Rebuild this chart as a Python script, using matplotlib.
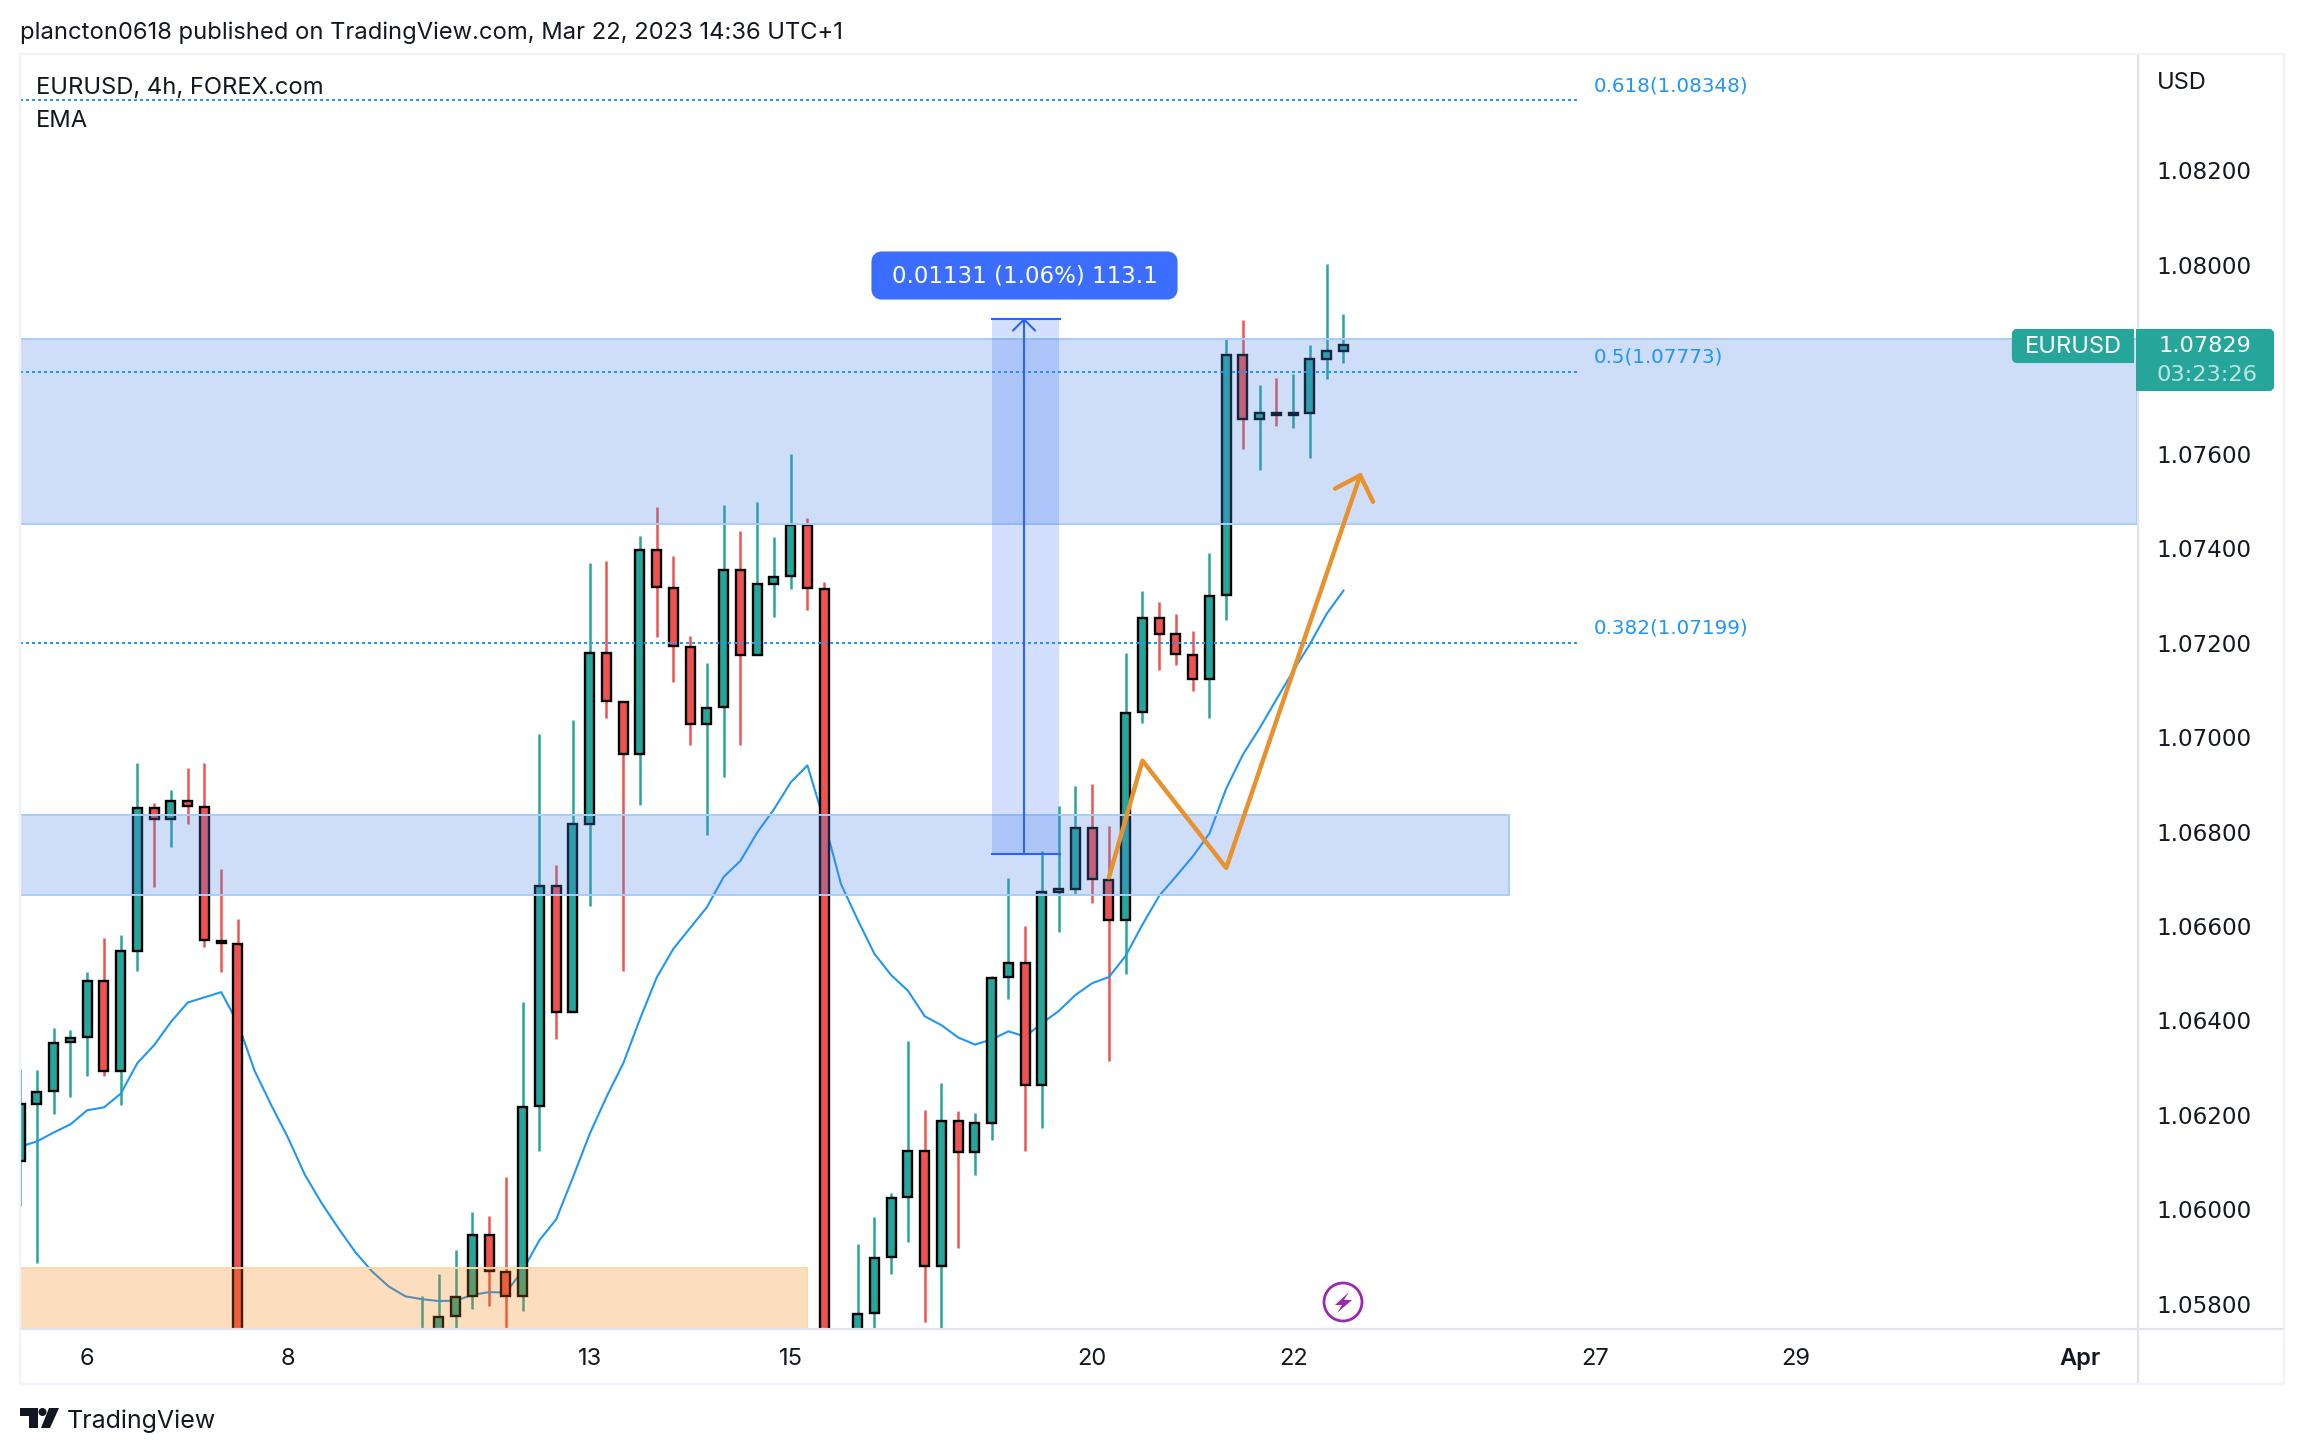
import numpy as np
import matplotlib
matplotlib.use("Agg")
import matplotlib.pyplot as plt
from matplotlib.patches import FancyBboxPatch, Circle, Polygon, Rectangle

nan = float("nan")
W, H = 2304, 1454

# ---------- data (bars below the visible range are nan) ----------
opens = [1.06102,1.06224,1.06250,1.06354,1.06366,1.06483,1.06292,1.06548,1.06849,1.06826,
         1.06864,1.06852,1.06569,1.06562,nan,nan,nan,nan,nan,nan,
         nan,nan,nan,nan,1.05700,1.05700,1.05774,1.05816,1.05946,1.05867,
         1.05816,1.06219,1.06684,1.06418,1.06817,1.07178,1.07075,1.06965,1.07396,1.07316,
         1.07191,1.07027,1.07063,1.07354,1.07173,1.07325,1.07340,1.07449,1.07314,nan,
         1.05700,1.05780,1.05899,1.06026,1.06123,1.05880,1.06187,1.06121,1.06184,1.06492,
         1.06521,1.06263,1.06672,1.06678,1.06807,1.06697,1.06612,1.07052,1.07252,1.07219,
         1.07174,1.07123,1.07300,1.07809,1.07674,1.07686,1.07682,1.07687,1.07801,1.07818]
closes = [1.06224,1.06248,1.06352,1.06363,1.06483,1.06292,1.06547,1.06849,1.06826,1.06864,
          1.06853,1.06570,1.06563,1.05650,nan,nan,nan,nan,nan,nan,
          nan,nan,nan,nan,1.05720,1.05773,1.05814,1.05946,1.05869,1.05816,
          1.06217,1.06684,1.06418,1.06816,1.07178,1.07076,1.06965,1.07396,1.07317,1.07192,
          1.07027,1.07062,1.07354,1.07173,1.07324,1.07339,1.07449,1.07315,1.05600,nan,
          1.05779,1.05897,1.06024,1.06123,1.05880,1.06187,1.06121,1.06183,1.06490,1.06521,
          1.06263,1.06671,1.06678,1.06807,1.06699,1.06612,1.07051,1.07252,1.07219,1.07175,
          1.07123,1.07299,1.07809,1.07674,1.07686,1.07682,1.07686,1.07801,1.07818,1.07829]
highs = [1.06298,1.06296,1.06385,1.06380,1.06502,1.06574,1.06581,1.06945,1.06860,1.06887,
         1.06934,1.06945,1.06720,1.06614,nan,nan,nan,nan,nan,nan,
         nan,nan,nan,nan,1.05816,1.05864,1.05914,1.05994,1.05986,1.06068,
         1.06440,1.07006,1.06729,1.07036,1.07368,1.07372,1.07075,1.07425,1.07487,1.07383,
         1.07214,1.07156,1.07491,1.07436,1.07497,1.07423,1.07599,1.07463,1.07328,nan,
         1.05927,1.05983,1.06035,1.06356,1.06210,1.06268,1.06208,1.06204,1.06494,1.06702,
         1.06600,1.06758,1.06854,1.06896,1.06900,1.06811,1.07178,1.07309,1.07285,1.07260,
         1.07224,1.07389,1.07842,1.07882,1.07745,1.07760,1.07768,1.07830,1.08001,1.07895]
lows = [1.06007,1.05887,1.06201,1.06238,1.06282,1.06282,1.06222,1.06504,1.06683,1.06767,
        1.06817,1.06555,1.06502,1.05600,nan,nan,nan,nan,nan,nan,
        nan,nan,nan,nan,1.05650,1.05650,1.05700,1.05790,1.05796,1.05700,
        1.05784,1.06123,1.06360,1.06418,1.06642,1.07041,1.06504,1.06857,1.07212,1.07116,
        1.06984,1.06792,1.06916,1.06984,1.07173,1.07255,1.07314,1.07269,1.05550,nan,
        1.05650,1.05700,1.05863,1.05930,1.05761,1.05700,1.05918,1.06073,1.06147,1.06445,
        1.06123,1.06173,1.06587,1.06665,1.06649,1.06315,1.06499,1.07030,1.07142,1.07153,
        1.07097,1.07041,1.07248,1.07609,1.07565,1.07658,1.07654,1.07590,1.07758,1.07791]
ema = [1.06133,1.06144,1.06163,1.06180,1.06210,1.06216,1.06245,1.06310,1.06348,1.06397,
       1.06438,1.06449,1.06460,1.06394,1.06293,1.06220,1.06151,1.06073,1.06013,1.05960,
       1.05910,1.05869,1.05837,1.05816,1.05810,1.05806,1.05807,1.05819,1.05825,1.05824,
       1.05871,1.05935,1.05979,1.06068,1.06160,1.06238,1.06309,1.06403,1.06491,1.06552,
       1.06596,1.06640,1.06704,1.06738,1.06798,1.06847,1.06904,1.06940,1.06822,1.06689,
       1.06613,1.06541,1.06496,1.06463,1.06409,1.06390,1.06364,1.06349,1.06360,1.06377,
       1.06366,1.06394,1.06420,1.06454,1.06479,1.06492,1.06537,1.06603,1.06664,1.06705,
       1.06747,1.06796,1.06891,1.06963,1.07019,1.07080,1.07140,1.07197,1.07261,1.07310]

price_ticks = [1.058,1.060,1.062,1.064,1.066,1.068,1.070,1.072,1.074,1.076,1.080,1.082]
time_tick_bars = [4,16,34,46,64,76,94,106,123]
time_tick_labels = ["6","8","13","15","20","22","27","29","Apr"]

fib_levels = [1.08348,1.07773,1.07199]
fib_names = ["0.618","0.5","0.382"]
band_upper = (1.07451,1.07842)
band_lower = (1.06665,1.06835)
band_demand_top = 1.05876
measure_low, measure_high = 1.06753,1.07884
measure_bars = (58,62)
path_bars = [65,67,72,80]
path_prices = [1.06703,1.06950,1.06723,1.07554]
head_bars = [78.5,80,80.77]
head_prices = [1.07526,1.07554,1.07498]

FONT = "Inter"
NUM = "DejaVu Sans"   # tabular digits, closest to the reference's figure widths
plt.rcParams["font.family"] = FONT
GREEN, RED, BLUE, INK = "#26a69a","#ef5350","#2196f3","#131722"

fig = plt.figure(figsize=(W/100,H/100),dpi=100,facecolor="white")
L,R,T,B = 20,2137,54,1328
ax = fig.add_axes([L/W,1-B/H,(R-L)/W,(B-T)/H])
ax.set_xlim((L-20.2)/16.75,(R-20.2)/16.75)
ax.set_ylim(1.05749,1.08446)
for s in ax.spines.values():
    s.set_visible(False)

# candles
idx = np.arange(len(opens))
o,c,h,l = map(np.array,(opens,closes,highs,lows))
ok = ~np.isnan(o)
up = c>=o
wick_col = [GREEN if u else RED for u in up]
ax.vlines(idx[ok],l[ok],h[ok],colors=[w for w,k in zip(wick_col,ok) if k],linewidth=1.8,zorder=2)
ax.plot(idx,ema,color=BLUE,lw=1.5,zorder=2.5,solid_joinstyle="round")
ax.bar(idx[ok],np.abs(c-o)[ok],bottom=np.minimum(o,c)[ok],width=0.54,
       color=[w for w,k in zip(wick_col,ok) if k],edgecolor="black",linewidth=1.7,zorder=3)

# zones
x_end = ax.get_xlim()[1]
x0 = ax.get_xlim()[0]
BF,BE = (0.30,0.53,0.90,0.275),"#a9cdf6"
ax.add_patch(Rectangle((x0,band_upper[0]),x_end-x0,band_upper[1]-band_upper[0],fc=BF,ec=BE,lw=1.4,zorder=4))
ax.add_patch(Rectangle((x0,band_lower[0]),88.9-x0,band_lower[1]-band_lower[0],fc=BF,ec=BE,lw=1.4,zorder=4))
ax.add_patch(Rectangle((x0,1.0560),47-x0,band_demand_top-1.0560,fc=(0.96,0.486,0.0,0.25),ec="#fbd9a5",lw=1.4,zorder=4))

# fib lines
for lv,nm in zip(fib_levels,fib_names):
    ax.plot([x0,93],[lv,lv],color=BLUE,lw=1.44,ls=(0,(1.5,1.5)),zorder=5)
    ax.annotate(f"{nm}({lv:.5f})",xy=(94,lv),xytext=(-0.5,10.5),textcoords="offset points",
                color=BLUE,fontsize=14.3,family=NUM,va="center",ha="left",zorder=6)

# measure tool
TVB = "#2962ff"
m0,m1 = measure_bars
mid = 59.93
ax.add_patch(Rectangle((m0,measure_low),m1-m0,measure_high-measure_low,fc=(0.161,0.384,1,0.2),ec="none",zorder=4.5))
ax.plot([m0,m1+0.05],[measure_low]*2,color=TVB,lw=1.5,zorder=5)
ax.plot([m0,m1+0.05],[measure_high]*2,color=TVB,lw=1.5,zorder=5)
ax.plot([mid,mid],[measure_low,measure_high],color=TVB,lw=1.5,zorder=5)
ax.plot([mid-0.65,mid,mid+0.65],[measure_high-0.00023,measure_high,measure_high-0.00023],color=TVB,lw=1.5,zorder=5)

# orange drawing
OR = "#e8912f"
ax.plot(path_bars,path_prices,color=OR,lw=3.2,zorder=7,solid_joinstyle="round",solid_capstyle="round")
ax.plot(head_bars,head_prices,color=OR,lw=3.2,zorder=7,solid_joinstyle="round",solid_capstyle="round")

# axes ticks
ax.yaxis.tick_right()
ax.set_yticks(price_ticks,[f"{p:.5f}" for p in price_ticks])
ax.set_xticks(time_tick_bars,time_tick_labels)
ax.tick_params(axis="y",length=0,pad=14.0,labelsize=16.6,labelcolor=INK)
ax.tick_params(axis="x",length=0,pad=14.5,labelsize=17,labelcolor=INK)
for t in ax.get_yticklabels():
    t.set_family(NUM)
for t in ax.get_xticklabels():
    if t.get_text()=="Apr":
        t.set_fontweight("semibold")

# overlay in reference pixels: frame, tags, header, logo
ov = fig.add_axes([0,0,1,1],zorder=10)
ov.set_xlim(0,W); ov.set_ylim(H,0); ov.axis("off"); ov.patch.set_alpha(0)
FR = "#f0f3fa"; DV = "#e0e3eb"
ov.plot([19.5,2283.5,2283.5,19.5,19.5],[54,54,1384,1384,54],color=FR,lw=1.7)
ov.plot([2137.5,2137.5],[54,1384],color=DV,lw=1.6,zorder=1)
ov.plot([20,2284],[1329,1329],color=DV,lw=1.6,zorder=1)

ov.text(20,33,"plancton0618 published on TradingView.com, Mar 22, 2023 14:36 UTC+1",fontsize=17.1,color=INK,va="center",ha="left")
ov.text(36,87.5,"EURUSD, 4h, FOREX.com",fontsize=17.1,color=INK,va="center",ha="left")
ov.text(36,121,"EMA",fontsize=17.1,color=INK,va="center",ha="left")
ov.text(2157,83,"USD",fontsize=17,color=INK,va="center",ha="left")

# measure label
ov.add_patch(FancyBboxPatch((877,257),295,37,boxstyle="round,pad=0,rounding_size=5",fc="#3b6eff",ec="#3b6eff",lw=8,zorder=5))
ov.text(1024.5,276,"0.01131 (1.06%) 113.1",fontsize=16.5,family=NUM,color="white",va="center",ha="center",zorder=6)

# last price tags
ov.add_patch(FancyBboxPatch((2014,331),118,30,boxstyle="round,pad=0,rounding_size=3",fc=GREEN,ec=GREEN,lw=3,zorder=5))
ov.add_patch(Rectangle((2124,329),10,34,fc=GREEN,ec="none",zorder=5))
ov.add_patch(FancyBboxPatch((2140,331),132,58,boxstyle="round,pad=0,rounding_size=3",fc=GREEN,ec=GREEN,lw=3,zorder=5))
ov.add_patch(Rectangle((2136,329),12,62,fc=GREEN,ec="none",zorder=5))
ov.text(2073,347,"EURUSD",fontsize=17,color="white",va="center",ha="center",zorder=6)
ov.text(2205,346.5,"1.07829",fontsize=16.2,family=NUM,color="white",va="center",ha="center",zorder=6)
ov.text(2207,375,"03:23:26",fontsize=16.2,family=NUM,color="white",alpha=0.7,va="center",ha="center",zorder=6)

# bolt badge
ov.add_patch(Circle((1343,1302),19,fc="white",ec="#9c27b0",lw=2.0,zorder=5))
ov.add_patch(Polygon([(1349,1292),(1335,1305),(1342,1305),(1337,1313),(1352,1300),(1344,1300)],closed=True,fc="#9c27b0",ec="none",zorder=6))

# logo
LC = "#131722"
ov.add_patch(Polygon([(20,1408),(38,1408),(38,1428),(29,1428),(29,1416),(20,1416)],closed=True,fc=LC,ec="none"))
ov.add_patch(Circle((42.5,1412),4,fc=LC,ec="none"))
ov.add_patch(Polygon([(49,1408),(59,1408),(50,1428),(41,1428)],closed=True,fc=LC,ec="none"))
ov.text(67,1421,"TradingView",fontsize=18,color=LC,va="center",ha="left")

fig.savefig("out.png",dpi=100,facecolor="white")
